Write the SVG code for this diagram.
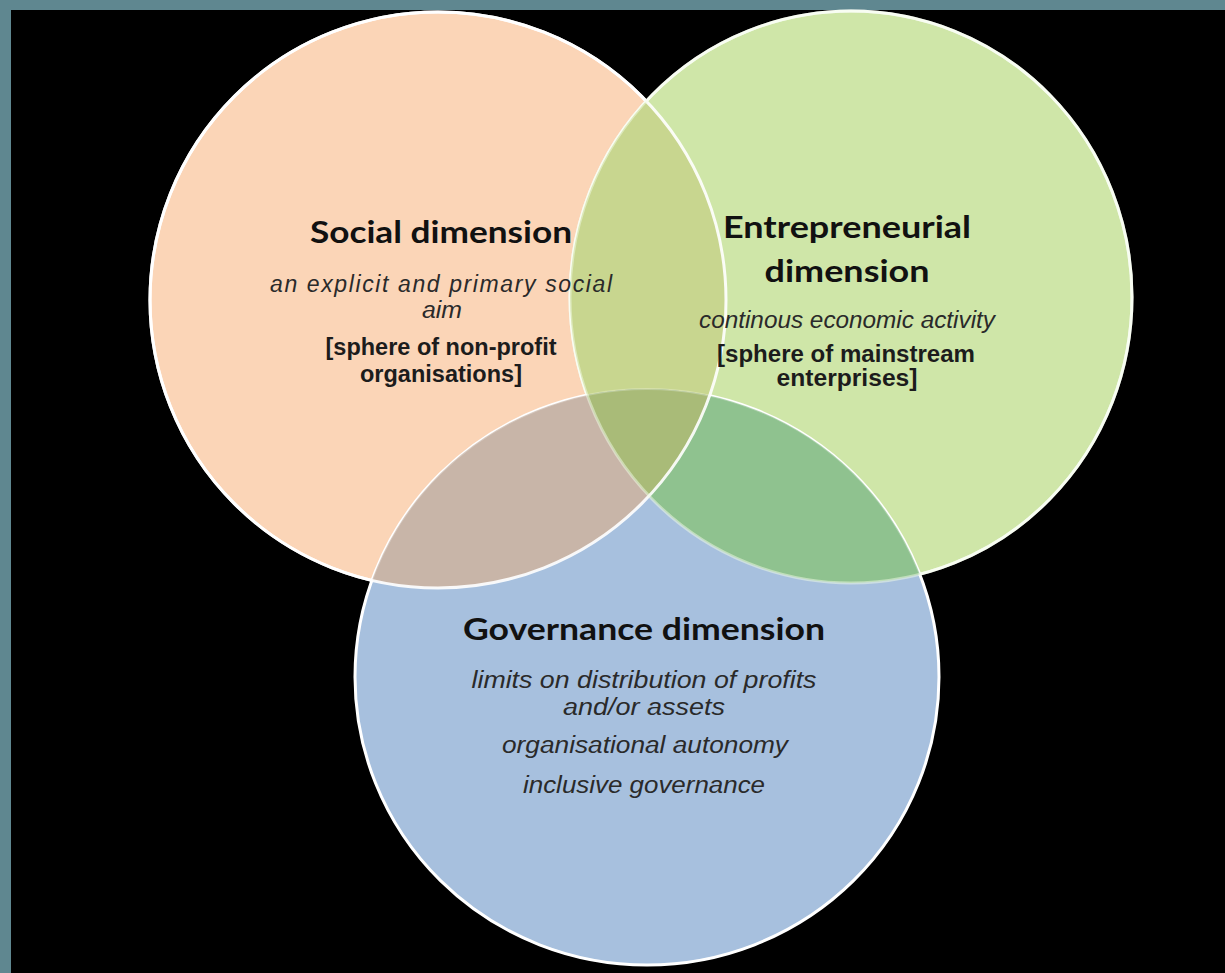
<svg xmlns="http://www.w3.org/2000/svg" width="1225" height="973" viewBox="0 0 1225 973">
<style>
.title{font-family:Lato,"Open Sans","Liberation Sans",sans-serif;font-weight:bold;font-size:30px;fill:#111;text-anchor:middle}
.it{font-family:"Liberation Sans",Arial,sans-serif;font-style:italic;font-size:23px;fill:#2a2a2a;text-anchor:middle}
.bd{font-family:"Liberation Sans",Arial,sans-serif;font-weight:bold;font-size:23px;fill:#1c1c1c;text-anchor:middle}
.edge{fill:none;stroke:#fff;stroke-width:3}
</style>
<defs>
<clipPath id="cS"><circle cx="438" cy="300" r="288"/></clipPath>
<clipPath id="cG"><ellipse cx="851" cy="297" rx="281" ry="286"/></clipPath>
<clipPath id="cB"><ellipse cx="647" cy="677" rx="292" ry="288"/></clipPath>
</defs>
<rect x="0" y="0" width="1225" height="973" fill="#5f8790"/>
<rect x="11" y="10" width="1214" height="963" fill="#000"/>
<g id="social">
<circle cx="438" cy="300" r="288" class="edge" style="fill:#fbd5b7"/>
</g>
<g id="entrepreneurial">
<ellipse cx="851" cy="297" rx="281" ry="286" class="edge" style="fill:#cfe6a8"/>
</g>
<g id="governance">
<ellipse cx="647" cy="677" rx="292" ry="288" class="edge" style="fill:#a7c0de"/>
</g>
<g id="overlaps">
<g clip-path="url(#cS)"><ellipse cx="851" cy="297" rx="281" ry="286" fill="#c8d68f"/></g>
<g clip-path="url(#cS)"><ellipse cx="647" cy="677" rx="292" ry="288" fill="#c8b5a8"/></g>
<g clip-path="url(#cG)"><ellipse cx="647" cy="677" rx="292" ry="288" fill="#8fc28f"/></g>
<g clip-path="url(#cS)"><g clip-path="url(#cG)"><ellipse cx="647" cy="677" rx="292" ry="288" fill="#a9bb78"/></g></g>
</g>
<g id="connectors">
<circle cx="438" cy="300" r="288" fill="none" stroke="#fff" stroke-width="3" stroke-opacity="0.9"/>
<ellipse cx="851" cy="297" rx="281" ry="286" fill="none" stroke="#f2fbe6" stroke-width="3" stroke-opacity="0.5"/>
<ellipse cx="647" cy="677" rx="292" ry="288" fill="none" stroke="#fff" stroke-width="2" stroke-opacity="0.25"/>
</g>
<g id="social-text">
<text class="title" x="441" y="243" textLength="262" lengthAdjust="spacingAndGlyphs">Social dimension</text>
<text class="it" x="441" y="292" textLength="342" lengthAdjust="spacing">an explicit and primary social</text>
<text class="it" x="442" y="318" textLength="40" lengthAdjust="spacingAndGlyphs">aim</text>
<text class="bd" x="441" y="355" textLength="231" lengthAdjust="spacingAndGlyphs">[sphere of non-profit</text>
<text class="bd" x="441" y="382" textLength="162" lengthAdjust="spacingAndGlyphs">organisations]</text>
</g>
<g id="entrepreneurial-text">
<text class="title" x="847" y="238" textLength="248" lengthAdjust="spacingAndGlyphs">Entrepreneurial</text>
<text class="title" x="847" y="282" textLength="165" lengthAdjust="spacingAndGlyphs">dimension</text>
<text class="it" x="847" y="328" textLength="296" lengthAdjust="spacingAndGlyphs">continous economic activity</text>
<text class="bd" x="846" y="362" textLength="258" lengthAdjust="spacingAndGlyphs">[sphere of mainstream</text>
<text class="bd" x="847" y="386" textLength="141" lengthAdjust="spacingAndGlyphs">enterprises]</text>
</g>
<g id="governance-text">
<text class="title" x="644" y="640" textLength="362" lengthAdjust="spacingAndGlyphs">Governance dimension</text>
<text class="it" x="644" y="688" textLength="345" lengthAdjust="spacingAndGlyphs">limits on distribution of profits</text>
<text class="it" x="644" y="715" textLength="162" lengthAdjust="spacingAndGlyphs">and/or assets</text>
<text class="it" x="645" y="753" textLength="286" lengthAdjust="spacingAndGlyphs">organisational  autonomy</text>
<text class="it" x="644" y="793" textLength="242" lengthAdjust="spacingAndGlyphs">inclusive  governance</text>
</g>
</svg>
